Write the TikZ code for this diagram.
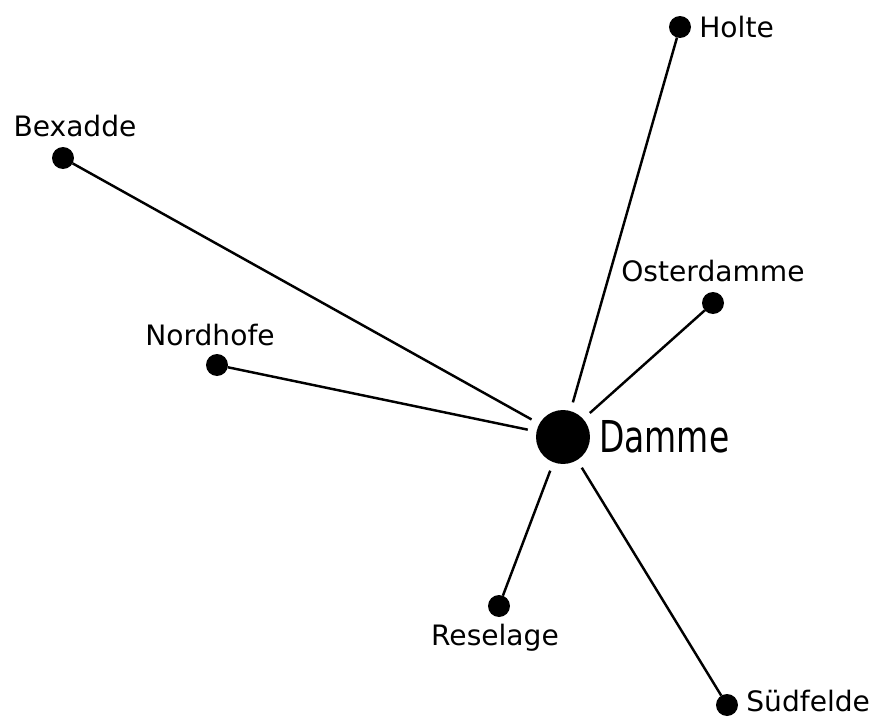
\documentclass[tikz,border=0pt]{standalone}
\usepackage{fontspec}
\setmainfont{DejaVu Sans}
\usepackage{graphicx}
\usetikzlibrary{positioning}

\begin{document}
\begin{tikzpicture}[
  x=0.02cm, y=-0.02cm,
  village/.style={circle, fill, minimum size=0.44cm, inner sep=0pt, outer sep=0pt},
  hub/.style={circle, fill, minimum size=1.08cm, inner sep=0pt, outer sep=0.18cm},
  place/.style={inner sep=0pt, font=\fontsize{16}{19}\selectfont},
  road/.style={line width=1.4pt}
]
\useasboundingbox (0,0) rectangle (877,717);

\node[hub] (damme) at (563,437) {};
\node[village] (holte) at (680,27) {};
\node[village] (bexadde) at (63,158) {};
\node[village] (osterdamme) at (713,303) {};
\node[village] (nordhofe) at (217,365) {};
\node[village] (reselage) at (499,606) {};
\node[village] (suedfelde) at (727,705) {};

\node[inner sep=0pt, right=0pt of damme, font=\fontsize{25}{30}\selectfont] (dammelabel) {\scalebox{0.75}[1]{Damme}};
\node[place, right=0.16cm of holte] (holtelabel) {Holte};
\node[place, above=0.2cm of bexadde, xshift=0.24cm] (bexaddelabel) {Bexadde};
\node[place, above=0.2cm of osterdamme] (osterdammelabel) {Osterdamme};
\node[place, above=0.16cm of nordhofe, xshift=-0.14cm] (nordhofelabel) {Nordhofe};
\node[place, below=0.13cm of reselage, xshift=-0.08cm] (reselagelabel) {Reselage};
\node[place, right=0.16cm of suedfelde, yshift=0.08cm] (suedfeldelabel) {Südfelde};

\draw[road] (holte) -- (damme);
\draw[road] (bexadde) -- (damme);
\draw[road] (osterdamme) -- (damme);
\draw[road] (nordhofe) -- (damme);
\draw[road] (reselage) -- (damme);
\draw[road] (suedfelde) -- (damme);
\end{tikzpicture}
\end{document}
